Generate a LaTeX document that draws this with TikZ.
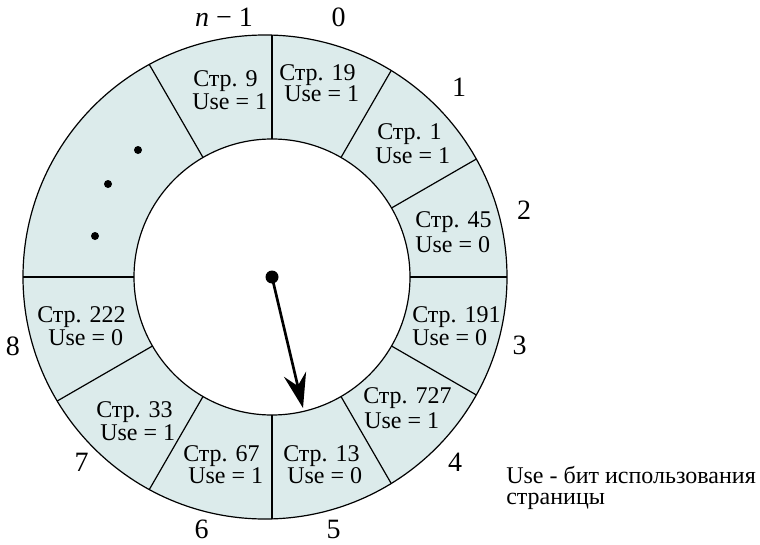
\documentclass[tikz,border=0pt]{standalone}
\usepackage{fontspec}
\setmainfont{Liberation Serif}
\usetikzlibrary{arrows.meta,calc}
\definecolor{ringfill}{RGB}{220,235,235}
\begin{document}
\begin{tikzpicture}[x=0.75pt,y=0.75pt,
  cell/.style={anchor=base west, inner sep=0pt, font=\fontsize{18}{17}\selectfont},
  num/.style={inner sep=0pt, font=\fontsize{21}{22}\selectfont},
  ring/.style={draw=black, line width=0.9pt},
  bigdot/.style={fill=black}]
\useasboundingbox (0,0) rectangle (760,544);
\coordinate (C) at (272,267);
\coordinate (O) at (265,267);
% ring
\fill[ringfill, even odd rule] (O) circle (242) (C) circle (138);
\draw[ring] (O) circle (242);
\draw[ring] (C) circle (138);
\foreach \a/\t in {90/241.9, 60/238.4, 30/235.9, 0/235, -30/235.9, -60/238.4, -90/241.9, -120/245.4, -150/248.0, 180/249, 120/245.4}
  \draw[ring] ($(C)+(\a:138)$) -- ($(C)+(\a:\t)$);
% dots
\fill[bigdot] (138,394) circle (4);
\fill[bigdot] (108,360) circle (4);
\fill[bigdot] (95,308) circle (4);
% cells
\node[cell] (s9a) at (193,457) {Стр. 9};
\node[cell] (s9b) at (192,435) {Use = 1};
\node[cell] (s0a) at (279,464) {Стр. 19};
\node[cell] (s0b) at (284,442) {Use = 1};
\node[cell] (s1a) at (377,405) {Стр. 1};
\node[cell] (s1b) at (375,381) {Use = 1};
\node[cell] (s2a) at (415,317) {Стр. 45};
\node[cell] (s2b) at (415,292) {Use = 0};
\node[cell] (s3a) at (412,222) {Стр. 191};
\node[cell] (s3b) at (412,199) {Use = 0};
\node[cell] (s4a) at (363,141) {Стр. 727};
\node[cell] (s4b) at (364,116) {Use = 1};
\node[cell] (s5a) at (283,83) {Стр. 13};
\node[cell] (s5b) at (287,61) {Use = 0};
\node[cell] (s6a) at (183,83) {Стр. 67};
\node[cell] (s6b) at (188,61) {Use = 1};
\node[cell] (s7a) at (96,127) {Стр. 33};
\node[cell] (s7b) at (100,104) {Use = 1};
\node[cell] (s8a) at (37,222) {Стр. 222};
\node[cell] (s8b) at (48,199) {Use = 0};
% index labels
\node[num] (Lnm1) at (224,526.5) {\textit{n} − 1};
\node[num] (L0) at (338.5,526.5) {0};
\node[num] (L1) at (459,457) {1};
\node[num] (L2) at (524,334) {2};
\node[num] (L3) at (519.5,199) {3};
\node[num] (L4) at (455,81.5) {4};
\node[num] (L5) at (333.5,15) {5};
\node[num] (L6) at (201.5,15) {6};
\node[num] (L7) at (81.5,81.5) {7};
\node[num] (L8) at (13,197.5) {8};
% pointer
\node[circle, fill=black, inner sep=0pt, minimum size=9.75pt] (hub) at (C) {};
\coordinate (tip) at (303,136);
\draw[line width=2pt, -{Stealth[length=26pt,width=17pt,inset=9pt]}] (hub.center) -- (tip);
% legend
\node[anchor=north west, inner sep=0pt, align=left, font=\fontsize{18}{16.3}\selectfont] (legend) at (506,78.4) {Use - бит использования\\страницы};
\end{tikzpicture}
\end{document}
